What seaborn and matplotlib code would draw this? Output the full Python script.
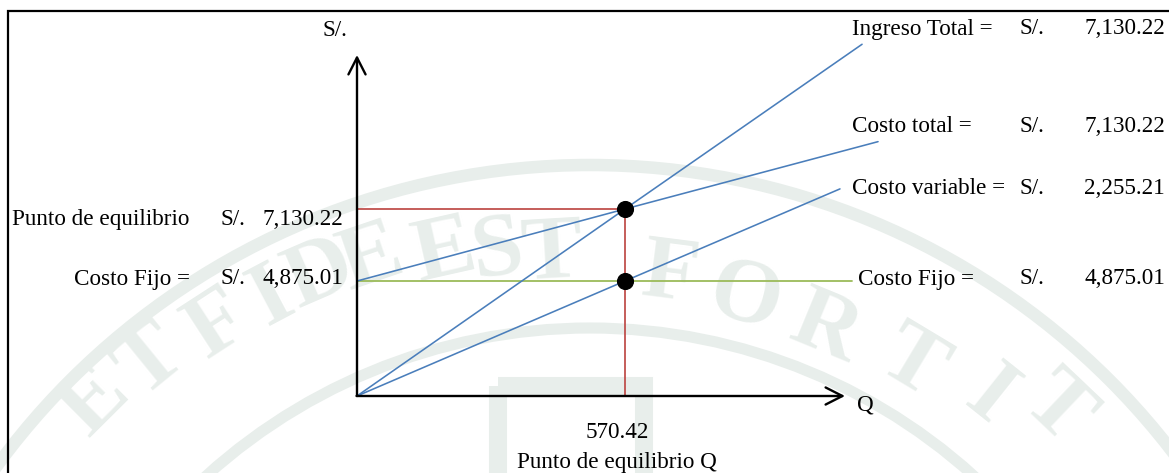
import numpy as np
import pandas as pd
import matplotlib
matplotlib.use("Agg")
import matplotlib.pyplot as plt
import seaborn as sns
from matplotlib.patches import Rectangle, Circle

# ---------------- data ----------------
q_equilibrio = 570.42
punto_equilibrio = 7130.22
ingreso_total = 7130.22
costo_total = 7130.22
costo_variable = 2255.21
costo_fijo = 4875.01

# schematic diagram (diagram units)
y_base = 1273.0                       # level of the axes corner in the diagram
it_line_q = [0.0, q_equilibrio, 1075.0]
it_line_s = [y_base, punto_equilibrio, 12290.0]
ct_line_q = [0.0, q_equilibrio, 1109.0]
ct_line_s = [costo_fijo, punto_equilibrio, 9240.0]
cv_line_q = [0.0, q_equilibrio, 1028.0]
cv_line_s = [y_base, costo_fijo, 7760.0]
cf_line_q = [0.0, 1054.0]
cf_line_s = [costo_fijo, costo_fijo]

def fmt(v):
    return f"{v:,.2f}"

# ---------------- figure ----------------
W, H, DPI = 1169, 473, 100
sns.set_theme(style="white")
plt.rcParams["font.family"] = ["Liberation Serif", "DejaVu Serif"]

fig = plt.figure(figsize=(W / DPI, H / DPI), dpi=DPI)

# faint watermark (background seal), pixel coordinates
bg = fig.add_axes([0, 0, 1, 1], zorder=0)
bg.set_xlim(0, W)
bg.set_ylim(H, 0)
bg.set_axis_off()
wm = "#e8eeeb"
cx, cy = 590, 900
bg.add_patch(Circle((cx, cy), 735, fill=False, edgecolor=wm, lw=9))
bg.add_patch(Circle((cx, cy), 572, fill=False, edgecolor=wm, lw=8))
bg.add_patch(Rectangle((498, 386), 146, 140, fill=False, edgecolor=wm, lw=13))
letters = [("E", 95, 402), ("T", 152, 362), ("F", 218, 326), ("I", 272, 298),
           ("D", 320, 276), ("E", 372, 260), ("E", 445, 254), ("S", 497, 252),
           ("T", 552, 256), ("F", 670, 276), ("O", 745, 300), ("R", 825, 330),
           ("T", 912, 364), ("I", 990, 398), ("T", 1056, 410)]
for ch, lx, ly in letters:
    ang = np.degrees(np.arctan2(lx - cx, cy - ly))
    bg.text(lx, ly, ch, fontsize=66, color=wm, ha="center", va="center",
            fontweight="bold", rotation=-ang, rotation_mode="anchor")

ax = fig.add_axes([0, 0, 1, 1], zorder=1)
ax.patch.set_alpha(0)
ax.set_axis_off()

# pixel -> data mapping for the layout
px_per_q = 268.0 / q_equilibrio
px_per_s = 187.0 / (punto_equilibrio - y_base)
x0_px, y0_px = 357.0, 396.0
ax.set_xlim(-x0_px / px_per_q, (W - x0_px) / px_per_q)
ax.set_ylim(y_base - (H - y0_px) / px_per_s, y_base + y0_px / px_per_s)

blue = "#4a7ebb"
red = "#c0504d"
green = "#9bbb59"
lw = 1.15

lines = pd.concat([
    pd.DataFrame({"Q": it_line_q, "S": it_line_s, "serie": "Ingreso Total"}),
    pd.DataFrame({"Q": ct_line_q, "S": ct_line_s, "serie": "Costo total"}),
    pd.DataFrame({"Q": cv_line_q, "S": cv_line_s, "serie": "Costo variable"}),
])
sns.lineplot(data=lines, x="Q", y="S", units="serie", estimator=None,
             color=blue, lw=lw, ax=ax, sort=False, zorder=4)
sns.lineplot(x=cf_line_q, y=cf_line_s, color=green, lw=1.3, ax=ax,
             estimator=None, zorder=3)
sns.lineplot(x=[0.0, q_equilibrio], y=[punto_equilibrio, punto_equilibrio],
             color=red, lw=1.3, ax=ax, estimator=None, zorder=3)
sns.lineplot(x=[q_equilibrio, q_equilibrio], y=[y_base, punto_equilibrio],
             color=red, lw=1.3, ax=ax, zorder=3, estimator=None, sort=False)

pts = pd.DataFrame({"Q": [q_equilibrio, q_equilibrio],
                    "S": [punto_equilibrio, costo_fijo]})
sns.scatterplot(data=pts, x="Q", y="S", color="black", s=130,
                edgecolor="black", ax=ax, zorder=6)

# axes arrows
q_axis_end = (845 - x0_px) / px_per_q
s_axis_end = y_base + (396 - 55) / px_per_s
arr = dict(arrowstyle="->,head_length=0.55,head_width=0.28", color="black",
           lw=1.7, mutation_scale=22, shrinkA=0, shrinkB=0)
ax.annotate("", xy=(0, s_axis_end), xytext=(0, y_base), arrowprops=arr, zorder=7)
ax.annotate("", xy=(q_axis_end, y_base), xytext=(-1.0, y_base), arrowprops=arr, zorder=7)

ax.set_xlabel("")
ax.set_ylabel("")

# ---------------- text ----------------
fs = 16.7
def T(px, py, s, ha="left"):
    fig.text(px / W, 1 - py / H, s, ha=ha, va="center", fontsize=fs,
             color="black", zorder=8)

T(335, 31, "S/.", ha="center")
T(857, 405, "Q")
T(617, 432, fmt(q_equilibrio), ha="center")
T(617, 462, "Punto de equilibrio Q", ha="center")

T(12, 219, "Punto de equilibrio")
T(221, 219, "S/.")
T(343, 219, fmt(punto_equilibrio), ha="right")
T(190, 279, "Costo Fijo =", ha="right")
T(221, 279, "S/.")
T(343, 279, fmt(costo_fijo), ha="right")

T(852, 29, "Ingreso Total =")
T(1020, 29, "S/.")
T(1165, 29, fmt(ingreso_total), ha="right")
T(852, 127, "Costo total =")
T(1020, 127, "S/.")
T(1165, 127, fmt(costo_total), ha="right")
T(852, 189, "Costo variable =")
T(1020, 189, "S/.")
T(1165, 189, fmt(costo_variable), ha="right")
T(858, 279, "Costo Fijo =")
T(1020, 279, "S/.")
T(1165, 279, fmt(costo_fijo), ha="right")

# frame
fig.patches.append(Rectangle((8 / W, -0.05), 1.2, 1 - 11 / H + 0.05,
                             transform=fig.transFigure, fill=False,
                             edgecolor="black", lw=1.6, zorder=10))

fig.savefig("out.png", dpi=DPI)
